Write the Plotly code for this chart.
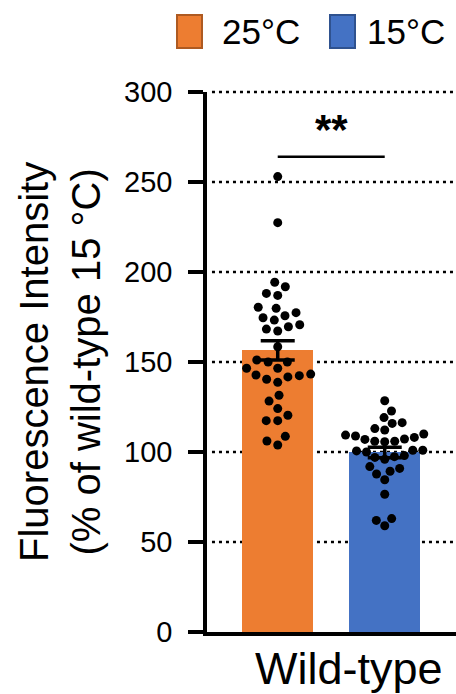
import math
import plotly.graph_objects as go

# Measurements: fluorescence intensity (% of wild-type at 15 °C)
conditions = ["25°C", "15°C"]
bar_colors = ["#ED7D31", "#4472C4"]
edge_colors = ["#AE5A21", "#2F528F"]
values_25 = [253.0, 227.4, 191.8, 194.3, 188.1, 187.0, 179.8, 180.4, 177.4, 175.7,
             174.6, 170.7, 173.3, 169.6, 168.3, 167.2, 158.5, 150.0, 151.1, 150.0,
             142.8, 146.5, 146.5, 140.4, 143.3, 141.7, 142.4, 138.7, 131.5, 128.3,
             124.1, 120.4, 117.4, 117.4, 108.7, 103.9, 106.1]
values_15 = [128.5, 122.8, 119.1, 116.3, 115.9, 113.0, 112.2, 110.0, 109.4, 108.9,
             108.1, 106.0, 106.0, 107.0, 107.2, 105.7, 101.0, 101.0, 100.6, 100.0,
             98.0, 97.4, 97.0, 96.0, 91.9, 90.9, 89.3, 87.8, 84.6, 76.5,
             63.0, 62.0, 59.0]
groups = [values_25, values_15]
y_ticks = [0, 50, 100, 150, 200, 250, 300]
significance = "**"
group_label = "Wild-type"

# Figure geometry
W, H = 456, 694
ML, MR, MT, MB = 207, 0, 92, 62
PW, PH = W - ML - MR, H - MT - MB
X_RANGE = [-0.661, 1.666]
Y_RANGE = [0, 300]
px_per_x = PW / (X_RANGE[1] - X_RANGE[0])
px_per_y = PH / (Y_RANGE[1] - Y_RANGE[0])
FONT = "Arial, Liberation Sans, sans-serif"
GRID_DASH = "3px,4px"


def px_to_paper(px, py):
    return (px - ML) / PW, (H - MB - py) / PH


def swarm_offsets(vals, diameter):
    """Greedy beeswarm: each point takes the free spot nearest the centre."""
    order = sorted(range(len(vals)), key=lambda i: vals[i])
    placed, xs = [], [0.0] * len(vals)
    for i in order:
        y = vals[i] * px_per_y
        near = [(px, py) for px, py in placed if abs(py - y) < diameter]
        cands = [0.0]
        for px, py in near:
            dx = math.sqrt(diameter ** 2 - (py - y) ** 2)
            cands += [px - dx, px + dx]
        cands.sort(key=abs)
        for c in cands:
            if all((c - px) ** 2 + (y - py) ** 2 >= diameter ** 2 - 1e-6 for px, py in near):
                xs[i] = c
                break
        placed.append((xs[i], y))
    return [x / px_per_x for x in xs]


means = [sum(v) / len(v) for v in groups]
sems = [math.sqrt(sum((x - m) ** 2 for x in v) / (len(v) - 1)) / math.sqrt(len(v))
        for v, m in zip(groups, means)]

fig = go.Figure()

# Dotted grid lines at every tick; the top one sits on the plot edge so it is
# drawn above to avoid being clipped
for t in y_ticks[1:]:
    gy = (t - Y_RANGE[0]) / (Y_RANGE[1] - Y_RANGE[0])
    fig.add_shape(type="line", xref="paper", yref="paper", x0=0.02, x1=1, y0=gy, y1=gy,
                  layer="above" if t == Y_RANGE[1] else "below",
                  line=dict(color="black", width=2.5, dash=GRID_DASH))

# Bars at the group means
for i, (name, m) in enumerate(zip(conditions, means)):
    fig.add_trace(go.Bar(x=[i], y=[m], width=0.664, marker=dict(color=bar_colors[i], line=dict(width=0)),
                         name=name, showlegend=False))

# Individual measurements as a swarm
swarm_sizes = [11.5, 10.0]
for i, vals in enumerate(groups):
    offs = swarm_offsets(vals, swarm_sizes[i])
    fig.add_trace(go.Scatter(x=[i + o for o in offs], y=vals, mode="markers",
                             marker=dict(color="black", size=9), showlegend=False,
                             cliponaxis=False))

# Mean ± SEM
fig.add_trace(go.Scatter(x=[0, 1], y=means, mode="markers", marker=dict(size=1, opacity=0),
                         error_y=dict(type="data", array=sems, visible=True, color="black",
                                      thickness=3.5, width=17),
                         showlegend=False))

# Significance bracket
fig.add_shape(type="line", x0=0, x1=1, y0=264, y1=264, xref="x", yref="y",
              line=dict(color="black", width=2.5))
fig.add_annotation(x=0.5, y=279, xref="x", yref="y", text="<b>" + significance + "</b>", showarrow=False,
                   font=dict(family=FONT, size=42, color="black"), xanchor="center", yanchor="middle")

# Legend drawn by hand
legend_boxes = [(177, 202), (330, 355)]
legend_text_x = [220, 365]
for i, name in enumerate(conditions):
    x0, y0 = px_to_paper(legend_boxes[i][0], 48)
    x1, y1 = px_to_paper(legend_boxes[i][1], 15)
    fig.add_shape(type="rect", xref="paper", yref="paper", x0=x0, x1=x1, y0=y0, y1=y1,
                  fillcolor=bar_colors[i], line=dict(color=edge_colors[i], width=2))
    tx, ty = px_to_paper(legend_text_x[i], 31)
    fig.add_annotation(xref="paper", yref="paper", x=tx, y=ty, text=name, showarrow=False,
                       xanchor="left", yanchor="middle",
                       font=dict(family=FONT, size=35, color="black"))

# Group label under the bars
gx, gy = px_to_paper(349, 668)
fig.add_annotation(xref="paper", yref="paper", x=gx, y=gy, text=group_label, showarrow=False,
                   xanchor="center", yanchor="middle", font=dict(family=FONT, size=45, color="black"))

# Y-axis title
tx, ty = px_to_paper(60, 0)
fig.add_annotation(xref="paper", yref="paper", x=tx, y=0.5,
                   text="Fluorescence Intensity<br>(% of wild-type 15 °C)", showarrow=False,
                   textangle=-90, xanchor="center", yanchor="middle",
                   font=dict(family=FONT, size=40, color="black"))

fig.update_layout(
    width=W, height=H, margin=dict(l=ML, r=MR, t=MT, b=MB),
    plot_bgcolor="white", paper_bgcolor="white", bargap=0,
    font=dict(family=FONT, color="black"),
    xaxis=dict(range=X_RANGE, showgrid=False, zeroline=False, showticklabels=False,
               ticks="", showline=True, linecolor="black", linewidth=3.5, fixedrange=True),
    yaxis=dict(range=Y_RANGE, tickvals=y_ticks, ticktext=[str(t) for t in y_ticks],
               ticks="outside", ticklen=15, tickwidth=3.5, tickcolor="black",
               showline=True, linecolor="black", linewidth=3.5, showgrid=False,
               zeroline=False, tickfont=dict(family=FONT, size=29, color="black"),
               ticklabelstandoff=10, fixedrange=True),
)

fig.write_html("out.html")
